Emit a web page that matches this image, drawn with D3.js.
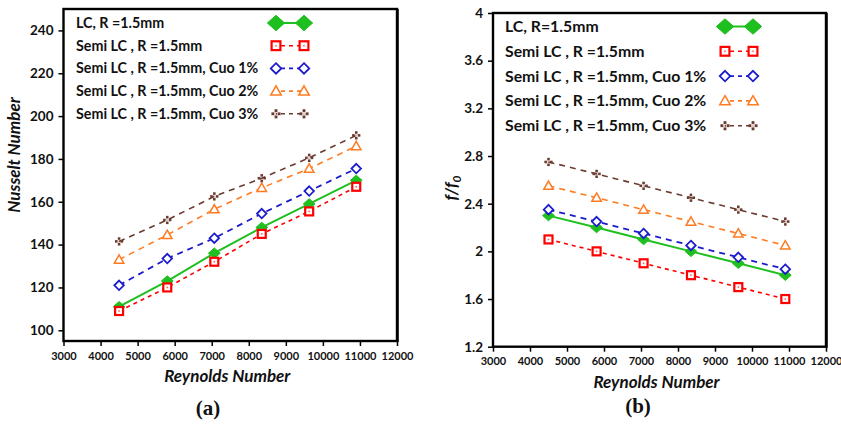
<!DOCTYPE html>
<html>
<head>
<meta charset="utf-8">
<script src="https://cdn.jsdelivr.net/npm/d3@7"></script>
<style>
  html, body { margin: 0; padding: 0; background: #fff; }
  svg { display: block; }
  text { font-family: Lato, "Open Sans", sans-serif; }
  text.caption { font-family: "Liberation Serif", "DejaVu Serif", serif; }
</style>
</head>
<body>
<svg id="fig" width="841" height="425"></svg>
<script>
// Reynolds numbers of the measured points (shared by both panels)
const reynolds = [4500, 5800, 7070, 8350, 9630, 10900];

// Panel (a): Nusselt number
const nuLC   = [111, 123, 136, 148, 159, 170];
const nuSemi = [109, 120, 132, 145, 155.5, 167];
const nuCuo1 = [121, 133.5, 143, 154.5, 165, 175.5];
const nuCuo2 = [133, 144.5, 156.5, 166.5, 175.5, 186];
const nuCuo3 = [141.5, 151.5, 162.5, 171, 180.5, 191];

// Panel (b): friction factor ratio f/f0
const ffLC   = [2.3, 2.2, 2.1, 2.0, 1.9, 1.8];
const ffSemi = [2.1, 2.0, 1.9, 1.8, 1.7, 1.6];
const ffCuo1 = [2.35, 2.25, 2.15, 2.05, 1.95, 1.85];
const ffCuo2 = [2.55, 2.45, 2.35, 2.25, 2.15, 2.05];
const ffCuo3 = [2.75, 2.65, 2.55, 2.45, 2.35, 2.25];

// Legend labels
const labelsA = ["LC, R =1.5mm", "Semi LC , R =1.5mm", "Semi LC , R =1.5mm, Cuo 1%",
                 "Semi LC , R =1.5mm, Cuo 2%", "Semi LC , R =1.5mm, Cuo 3%"];
const labelsB = ["LC, R=1.5mm", "Semi LC , R =1.5mm", "Semi LC , R =1.5mm, Cuo 1%",
                 "Semi LC , R =1.5mm, Cuo 2%", "Semi LC , R =1.5mm, Cuo 3%"];

// Ticks
const reTicks = [3000, 4000, 5000, 6000, 7000, 8000, 9000, 10000, 11000, 12000];
const nuTicks = [100, 120, 140, 160, 180, 200, 220, 240];
const ffTicks = [1.2, 1.6, 2, 2.4, 2.8, 3.2, 3.6, 4];

// Series styling
const styles = [
  { color: "#1fbf1f", marker: "diamondFill", dash: null,  width: 2 },
  { color: "#ff0000", marker: "square",      dash: "4,4", width: 1.6 },
  { color: "#1c1ccc", marker: "diamond",     dash: "6,5", width: 1.8 },
  { color: "#ff7a21", marker: "triangle",    dash: "6,5", width: 1.6 },
  { color: "#6b3b30", marker: "cross4",      dash: "6,5", width: 1.6 }
];

const svg = d3.select("#fig");

function drawMarker(g, type, color, cx, cy, s) {
  // s = nominal marker size in px
  if (type === "diamondFill") {
    const w = s * 0.62, h = s * 0.55;
    g.append("path")
      .attr("d", `M${cx},${cy - h}L${cx + w},${cy}L${cx},${cy + h}L${cx - w},${cy}Z`)
      .attr("fill", color).attr("stroke", color).attr("stroke-width", 1);
  } else if (type === "square") {
    const h = s * 0.42;
    g.append("rect").attr("x", cx - h).attr("y", cy - h)
      .attr("width", 2 * h).attr("height", 2 * h)
      .attr("fill", "#fff").attr("stroke", color).attr("stroke-width", 2.2);
    g.append("rect").attr("x", cx - 0.8).attr("y", cy - 0.8)
      .attr("width", 1.6).attr("height", 1.6).attr("fill", color).attr("opacity", 0.6);
  } else if (type === "diamond") {
    const h = s * 0.5;
    g.append("path")
      .attr("d", `M${cx},${cy - h}L${cx + h},${cy}L${cx},${cy + h}L${cx - h},${cy}Z`)
      .attr("fill", "#fff").attr("stroke", color).attr("stroke-width", 1.8);
  } else if (type === "triangle") {
    const h = s * 0.5;
    g.append("path")
      .attr("d", `M${cx},${cy - h}L${cx + h},${cy + h * 0.75}L${cx - h},${cy + h * 0.75}Z`)
      .attr("fill", "#fff").attr("stroke", color).attr("stroke-width", 1.5);
  } else if (type === "cross4") {
    const a = s * 0.27, d = s * 0.3;
    [[0, -d], [0, d], [-d, 0], [d, 0]].forEach(([dx, dy]) => {
      g.append("rect").attr("x", cx + dx - a / 2).attr("y", cy + dy - a / 2)
        .attr("width", a).attr("height", a).attr("fill", color);
    });
    g.append("rect").attr("x", cx - a / 2).attr("y", cy - a / 2)
      .attr("width", a).attr("height", a).attr("fill", color).attr("opacity", 0.25);
  }
}

function drawPanel(p) {
  const g = svg.append("g");
  const x = d3.scaleLinear().domain([3000, 12000]).range([p.left, p.right]);
  const y = d3.scaleLinear().domain(p.yDomain).range([p.bottom, p.top]);

  // frame
  g.append("rect")
    .attr("x", p.left).attr("y", p.top)
    .attr("width", p.right - p.left).attr("height", p.bottom - p.top)
    .attr("fill", "#fff").attr("stroke", "#000").attr("stroke-width", 2.4);
  g.append("line").attr("x1", p.right + 1).attr("x2", p.right + 1)
    .attr("y1", p.top).attr("y2", p.bottom + 1)
    .attr("stroke", "#000").attr("stroke-width", 1.5);

  // axes
  const xAxis = d3.axisBottom(x).tickValues(reTicks).tickSize(5).tickPadding(6)
    .tickFormat(d => String(d));
  const gx = g.append("g").attr("transform", `translate(0,${p.bottom})`).call(xAxis);
  gx.select(".domain").remove();
  gx.selectAll(".tick line").attr("stroke", "#000").attr("stroke-width", 1.5);
  gx.selectAll(".tick text").attr("font-size", 11).attr("font-weight", 700)
    .attr("fill", "#111").attr("font-family", null);

  const yAxis = d3.axisLeft(y).tickValues(p.yTicks).tickSize(5).tickPadding(5)
    .tickFormat(d => String(d));
  const gy = g.append("g").attr("transform", `translate(${p.left},0)`).call(yAxis);
  gy.select(".domain").remove();
  gy.selectAll(".tick line").attr("stroke", "#000").attr("stroke-width", 1.5);
  gy.selectAll(".tick text").attr("font-size", 13.5).attr("font-weight", 700)
    .attr("fill", "#111").attr("font-family", null);

  // series lines then markers
  p.series.forEach((vals, i) => {
    const st = styles[i];
    const line = d3.line().x((d, k) => x(reynolds[k])).y(d => y(d));
    g.append("path").datum(vals).attr("d", line)
      .attr("fill", "none").attr("stroke", st.color)
      .attr("stroke-width", st.width)
      .attr("stroke-dasharray", st.dash);
    vals.forEach((v, k) => drawMarker(g, st.marker, st.color, x(reynolds[k]), y(v), 9.5));
  });

  // legend
  p.labels.forEach((lab, i) => {
    const st = styles[i];
    const ly = p.legY + i * p.legDy;
    g.append("text").attr("x", p.legX).attr("y", ly).attr("dy", "0.35em")
      .attr("font-size", p.legFont).attr("font-weight", 700).attr("fill", "#111")
      .text(lab);
    g.append("line")
      .attr("x1", p.legM1).attr("x2", p.legM2).attr("y1", ly).attr("y2", ly)
      .attr("stroke", st.color).attr("stroke-width", st.width)
      .attr("stroke-dasharray", st.dash ? "4,4" : null)
      .attr("stroke-dashoffset", st.dash ? -5 : 0);
    const sz = i === 0 ? 14 : 10.5;
    drawMarker(g, st.marker, st.color, p.legM1, ly, sz);
    drawMarker(g, st.marker, st.color, p.legM2, ly, sz);
  });

  // axis titles
  g.append("text")
    .attr("x", (p.left + p.right) / 2 - 3).attr("y", p.bottom + 41)
    .attr("text-anchor", "middle").attr("font-size", 17)
    .attr("font-weight", 700).attr("font-style", "italic").attr("fill", "#111")
    .text("Reynolds Number");

  const yt = g.append("text")
    .attr("transform", `translate(${p.yLabX},${p.yLabY}) rotate(-90)`)
    .attr("text-anchor", "middle").attr("font-size", 17)
    .attr("font-weight", 700).attr("font-style", "italic").attr("fill", "#111");
  p.yTitle(yt);

  // panel caption
  g.append("text").attr("class", "caption")
    .attr("x", p.capX).attr("y", p.capY)
    .attr("text-anchor", "middle").attr("font-size", 21).attr("font-weight", 700)
    .attr("fill", "#111")
    .text(p.caption);
}

drawPanel({
  left: 63.5, right: 397, top: 9, bottom: 341,
  yDomain: [95, 250], yTicks: nuTicks,
  series: [nuLC, nuSemi, nuCuo1, nuCuo2, nuCuo3],
  labels: labelsA, legFont: 14.3,
  legX: 76, legY: 23, legDy: 22.7, legM1: 276, legM2: 304,
  yLabX: 20, yLabY: 155,
  yTitle: t => t.text("Nusselt Number"),
  capX: 208, capY: 415, caption: "(a)"
});

drawPanel({
  left: 493, right: 826, top: 13, bottom: 346.7,
  yDomain: [1.2, 4], yTicks: ffTicks,
  series: [ffLC, ffSemi, ffCuo1, ffCuo2, ffCuo3],
  labels: labelsB, legFont: 15.8,
  legX: 505, legY: 26.5, legDy: 24.8, legM1: 725, legM2: 753,
  yLabX: 457, yLabY: 188,
  yTitle: t => {
    t.append("tspan").text("f/f");
    t.append("tspan").attr("font-size", 12).attr("dy", 4).text("0");
  },
  capX: 638, capY: 413, caption: "(b)"
});
</script>
</body>
</html>
